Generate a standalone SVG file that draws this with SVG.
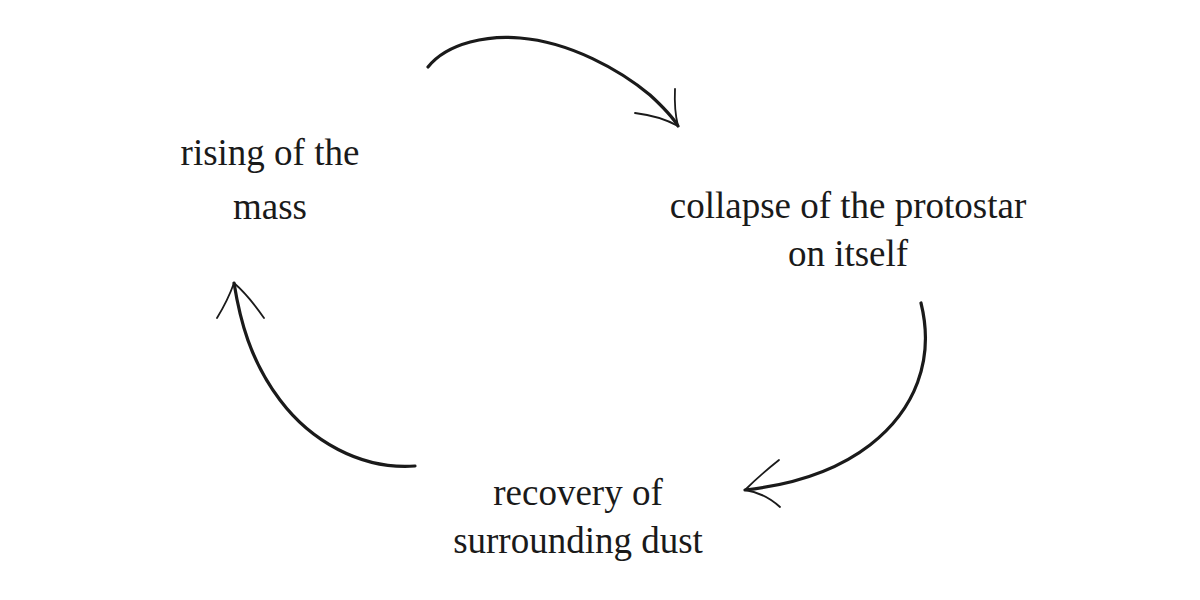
<svg xmlns="http://www.w3.org/2000/svg" width="1200" height="600" viewBox="0 0 1200 600">
<style>
.lbl{font-family:"Liberation Serif","DejaVu Serif",serif;font-size:37px;fill:#1a1a1a;text-anchor:middle}
.arc{fill:none;stroke:#1a1a1a;stroke-width:3.2;stroke-linecap:round}
.head{fill:none;stroke:#1a1a1a;stroke-width:1.8;stroke-linecap:round}
</style>
<rect width="1200" height="600" fill="#ffffff"/>
<g id="node-rising">
<text class="lbl" x="270" y="165">rising of the</text>
<text class="lbl" x="270" y="219">mass</text>
</g>
<g id="node-collapse">
<text class="lbl" x="848" y="218">collapse of the protostar</text>
<text class="lbl" x="848" y="266">on itself</text>
</g>
<g id="node-recovery">
<text class="lbl" x="578" y="505">recovery of</text>
<text class="lbl" x="578" y="553">surrounding dust</text>
</g>
<g id="connectors">
<path class="arc" d="M428,67 C448,42 490,35 520,38 C570,42 620,70 650,95 C662,106 672,116 678,126"/>
<path class="head" d="M675,89 Q674,110 678,126 M635,113 Q660,116 678,126"/>
<path class="arc" d="M921,303 C935,360 915,410 870,445 C835,472 790,485 745,490"/>
<path class="head" d="M779,460 Q760,475 745,490 M780,507 Q765,493 745,490"/>
<path class="arc" d="M415,466 C360,470 310,440 280,400 C250,360 240,320 234,283"/>
<path class="head" d="M217,318 Q228,300 234,283 M264,318 Q248,295 234,283"/>
</g>
</svg>
